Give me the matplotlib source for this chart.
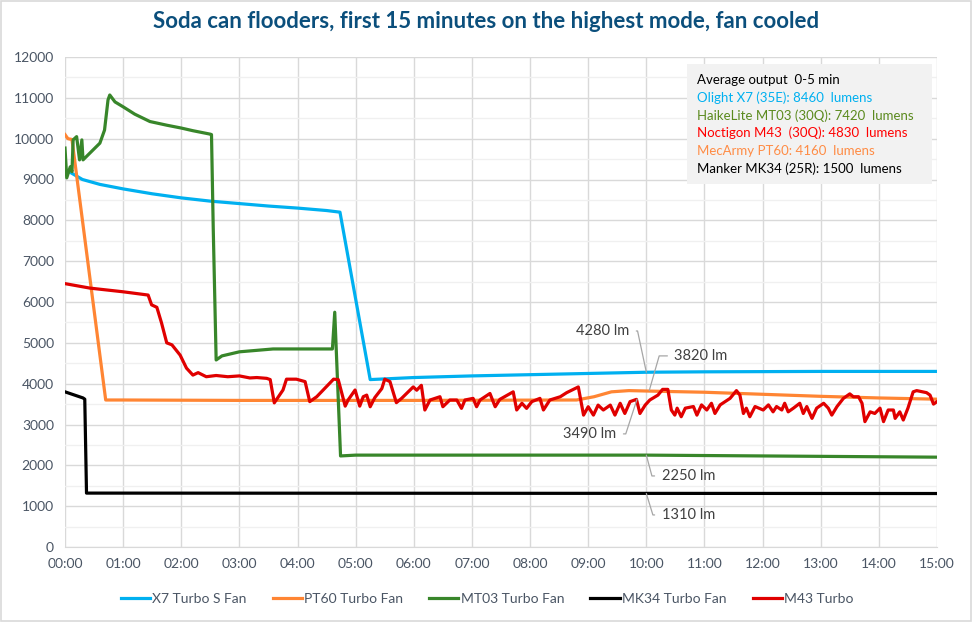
import matplotlib
matplotlib.use("Agg")
import matplotlib.pyplot as plt
from matplotlib.patches import Rectangle
from matplotlib.ticker import MultipleLocator

plt.rcParams['font.family'] = ['Lato', 'DejaVu Sans']

# ---------------- data (time in minutes, output in lumens) ----------------
x7_t = [0, 0.3, 0.6, 1.0, 1.5, 2.0, 2.5, 3.0, 3.5, 4.0, 4.5, 4.73, 5.25, 6, 7, 8, 9, 10, 11, 12, 13, 14, 15]
x7_v = [9250, 9000, 8880, 8770, 8650, 8550, 8470, 8410, 8350, 8300, 8240, 8200, 4100, 4150, 4190, 4220,
        4250, 4280, 4290, 4295, 4300, 4300, 4300]

pt60_t = [0, 0.05, 0.12, 0.7, 1.0, 3, 6, 8.8, 9.1, 9.4, 9.7, 10, 11, 12, 13, 14, 15]
pt60_v = [10100, 10000, 9980, 3600, 3600, 3590, 3590, 3600, 3680, 3800, 3830, 3820, 3790, 3740, 3690, 3650, 3620]

mt03_t = [0, 0.03, 0.09, 0.12, 0.14, 0.2, 0.25, 0.29, 0.31, 0.43, 0.6, 0.68, 0.74, 0.77, 0.86, 1.0, 1.2,
          1.46, 1.75, 2.0, 2.2, 2.5, 2.52, 2.55, 2.6, 2.7, 3.0, 3.58, 4.6, 4.64, 4.74, 5, 10, 15]
mt03_v = [9770, 9040, 9310, 9190, 9970, 10050, 9480, 9970, 9480, 9650, 9890, 10210, 10950, 11070, 10900,
          10780, 10600, 10420, 10330, 10260, 10195, 10110, 10100, 7800, 4580, 4680, 4780, 4850, 4850, 5750,
          2230, 2250, 2250, 2200]

mk34_t = [0, 0.31, 0.34, 0.37, 15]
mk34_v = [3800, 3650, 3620, 1320, 1310]

m43_t = [0, 0.43, 1.0, 1.43, 1.49, 1.58, 1.66, 1.75, 1.84, 1.98, 2.09, 2.2, 2.29, 2.43, 2.6, 2.8, 3.0, 3.18,
         3.3, 3.47, 3.53, 3.6, 3.75, 3.81, 3.98, 4.13, 4.21, 4.33, 4.56, 4.62, 4.7, 4.82, 4.87, 4.99, 5.07,
         5.13, 5.19, 5.25, 5.33, 5.45, 5.5, 5.59, 5.7, 5.79, 5.99, 6.05, 6.13, 6.19, 6.28, 6.45, 6.5, 6.62,
         6.74, 6.82, 6.88, 7.02, 7.08, 7.14, 7.31, 7.4, 7.48, 7.71, 7.77, 7.86, 7.94, 8.03, 8.17, 8.23, 8.34,
         8.52, 8.63, 8.83, 8.92, 9.0, 9.09, 9.17, 9.26, 9.38, 9.46, 9.55, 9.63, 9.72, 9.83, 9.89, 9.98, 10.06,
         10.2, 10.28, 10.37, 10.43, 10.49, 10.53, 10.6, 10.67, 10.81, 10.87, 10.95, 11.04, 11.12, 11.18,
         11.27, 11.44, 11.55, 11.61, 11.67, 11.72, 11.78, 11.87, 12.01, 12.1, 12.18, 12.24, 12.33, 12.38,
         12.44, 12.53, 12.64, 12.7, 12.76, 12.85, 12.93, 13.05, 13.13, 13.19, 13.28, 13.39, 13.5, 13.56,
         13.65, 13.71, 13.76, 13.85, 13.93, 14.02, 14.08, 14.16, 14.25, 14.28, 14.36, 14.42, 14.5, 14.59,
         14.65, 14.82, 14.88, 14.94, 15.0]
m43_v = [6450, 6340, 6250, 6170, 5930, 5870, 5490, 5000, 4950, 4700, 4380, 4210, 4270, 4170, 4200, 4170, 4190,
         4140, 4150, 4130, 4100, 3530, 3845, 4110, 4110, 4050, 3560, 3680, 4020, 4110, 4100, 3450, 3600, 3845,
         3450, 3680, 3720, 3435, 3660, 3880, 4110, 4050, 3535, 3640, 3920, 3840, 3960, 3355, 3600, 3680, 3435,
         3600, 3600, 3395, 3600, 3640, 3435, 3600, 3760, 3435, 3615, 3800, 3355, 3520, 3395, 3560, 3640, 3355,
         3600, 3680, 3780, 3920, 3230, 3435, 3230, 3475, 3355, 3475, 3230, 3520, 3270, 3560, 3615, 3270, 3475,
         3600, 3720, 3860, 3860, 3355, 3230, 3400, 3190, 3400, 3440, 3230, 3480, 3355, 3520, 3270, 3480, 3640,
         3830, 3720, 3270, 3400, 3190, 3440, 3355, 3480, 3310, 3440, 3355, 3520, 3310, 3400, 3520, 3270, 3440,
         3150, 3400, 3520, 3400, 3230, 3440, 3640, 3750, 3680, 3680, 3520, 3070, 3310, 3270, 3400, 3070, 3355,
         3355, 3150, 3310, 3110, 3400, 3800, 3830, 3780, 3720, 3500, 3560]

series_names = ["X7 Turbo S Fan", "PT60 Turbo Fan", "MT03 Turbo Fan", "MK34 Turbo Fan", "M43 Turbo"]
series_colors = ["#00B0F0", "#FF8533", "#38862A", "#000000", "#E00000"]

x_tick_labels = ["%02d:00" % h for h in range(16)]
y_ticks = list(range(0, 12001, 1000))

title = "Soda can flooders, first 15 minutes on the highest mode, fan cooled"
info_lines = ["Average output  0-5 min",
              "Olight X7 (35E): 8460  lumens",
              "HaikeLite MT03 (30Q): 7420  lumens",
              "Noctigon M43  (30Q): 4830  lumens",
              "MecArmy PT60: 4160  lumens",
              "Manker MK34 (25R): 1500  lumens"]
info_colors = ["#000000", "#00B0F0", "#5B8A1E", "#FF0000", "#FF8C45", "#000000"]

# callout labels: (text, x of point, y of point, x of text, y of text, leader angle at point)
callouts = [("4280 lm", 10.0, 4280, 9.25, 5290, -78),
            ("3820 lm", 10.05, 3830, 10.94, 4680, 74),
            ("3490 lm", 9.84, 3620, 9.03, 2770, 72),
            ("2250 lm", 10.0, 2250, 10.72, 1740, 105),
            ("1310 lm", 10.0, 1310, 10.72, 785, 107)]

# ---------------- figure ----------------
fig = plt.figure(figsize=(9.72, 6.22), dpi=100)
fig.patches.append(Rectangle((0.0008, 0.0012), 0.9984, 0.9976, transform=fig.transFigure,
                             fill=False, edgecolor="#D9D9D9", lw=1.2))
ax = fig.add_axes([65 / 972, 1 - 547 / 622, (937 - 65) / 972, (547 - 57) / 622])

series = [(x7_t, x7_v), (pt60_t, pt60_v), (mt03_t, mt03_v), (mk34_t, mk34_v), (m43_t, m43_v)]
handles = []
for (t, v), name, col in zip(series, series_names, series_colors):
    h, = ax.plot(t, v, color=col, lw=2.3, label=name, solid_joinstyle="round", zorder=3)
    handles.append(h)
ax.set_xlim(0, 15)
ax.set_ylim(0, 12000)
ax.set_xticks(range(16))
ax.set_xticklabels(x_tick_labels)
ax.set_yticks(y_ticks)
ax.set_yticklabels([str(v) for v in y_ticks])
ax.yaxis.set_minor_locator(MultipleLocator(500))
ax.grid(True, which="major", color="#D9D9D9", lw=1.0, zorder=0)
ax.grid(True, which="minor", axis="y", color="#F0F0F0", lw=1.0, zorder=0)
for s in ["top", "right", "left"]:
    ax.spines[s].set_visible(False)
ax.spines["bottom"].set_color("#D9D9D9")
ax.tick_params(axis="both", which="both", length=0, labelsize=10, labelcolor="#4A5564")
ax.tick_params(axis="x", pad=8)
ax.tick_params(axis="y", pad=8)

fig.text(486 / 972, 1 - 22 / 622, title, ha="center", va="center", fontsize=16, fontweight="bold",
         color="#0B4F7C")

# info box
fig.patches.append(Rectangle((687 / 972, 1 - 184 / 622), (932 - 687) / 972, (184 - 64) / 622,
                             transform=fig.transFigure, facecolor="#F2F2F2", edgecolor="none", zorder=5))
for i, (line, col) in enumerate(zip(info_lines, info_colors)):
    fig.text(697 / 972, 1 - (80 + i * 17.7) / 622, line, ha="left", va="center", fontsize=9.5,
             color=col, zorder=6)

# callouts
for txt, px, py, tx, ty, ang in callouts:
    ax.annotate(txt, xy=(px, py), xytext=(tx, ty), ha="center", va="center", fontsize=10.5,
                color="#404040", zorder=6,
                arrowprops=dict(arrowstyle="-", color="#A6A6A6", lw=0.9, shrinkA=3, shrinkB=0,
                                connectionstyle="angle,angleA=0,angleB=%d,rad=0" % ang))

fig.legend(handles=handles, loc="center", bbox_to_anchor=(487 / 972, 1 - 599 / 622), ncol=5,
           frameon=False, fontsize=10, handlelength=2.1, handletextpad=0.15, columnspacing=1.9,
           labelcolor="#4A5564")

fig.savefig("out.png", dpi=100)
